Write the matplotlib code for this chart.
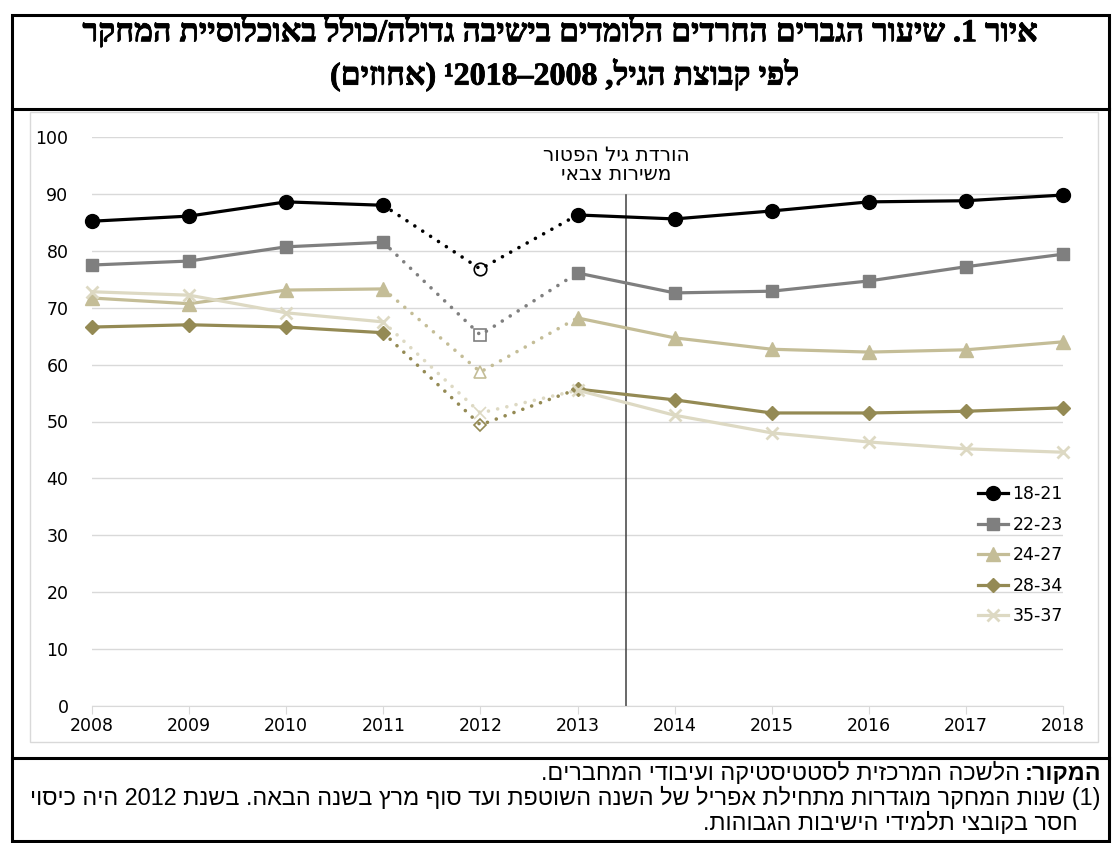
import re
import numpy as np
import matplotlib
matplotlib.use("Agg")
import matplotlib.pyplot as plt
import matplotlib.patheffects as pe
from matplotlib.lines import Line2D

# data (percent)
years = [2008, 2009, 2010, 2011, 2012, 2013, 2014, 2015, 2016, 2017, 2018]
labels = ["18-21", "22-23", "24-27", "28-34", "35-37"]
v_18_21 = [85.2, 86.1, 88.6, 88.0, 76.8, 86.3, 85.6, 87.0, 88.6, 88.8, 89.8]
v_22_23 = [77.5, 78.2, 80.7, 81.5, 65.2, 76.1, 72.6, 72.9, 74.7, 77.2, 79.4]
v_24_27 = [71.7, 70.7, 73.1, 73.3, 58.7, 68.2, 64.7, 62.7, 62.2, 62.6, 64.0]
v_28_34 = [66.6, 67.0, 66.6, 65.6, 49.4, 55.7, 53.8, 51.5, 51.5, 51.8, 52.4]
v_35_37 = [72.8, 72.2, 69.1, 67.5, 51.5, 55.5, 51.1, 48.0, 46.4, 45.2, 44.6]
series = [v_18_21, v_22_23, v_24_27, v_28_34, v_35_37]

colors = ["#000000", "#7f7f7f", "#c4bd97", "#948a54", "#ddd9c3"]
markers = ["o", "s", "^", "D", "x"]
msizes = [10, 9, 10, 7, 9]

MIRROR = str.maketrans("()", ")(")


def vis(s):
    # crude right-to-left reordering for hebrew text with numbers
    parts = re.split(r"([0-9]+)", s)
    out = []
    for p in parts:
        if p.isdigit():
            out.append(p)
        else:
            out.append(p[::-1].translate(MIRROR))
    return "".join(reversed(out))


W, H = 1112, 843
fig = plt.figure(figsize=(W / 100, H / 100), dpi=100)


def fx(px):
    return px / W


def fy(py):
    return 1 - py / H


ax = fig.add_axes([fx(92), fy(706), fx(1063) - fx(92), fy(137) - fy(706)])

gap = 2012
i_gap = years.index(gap)
for vals, c, m, ms, lab in zip(series, colors, markers, msizes, labels):
    mew = 2 if m == "x" else 1
    # solid parts
    ax.plot(years[:i_gap], vals[:i_gap], color=c, lw=2.3, marker=m, ms=ms,
            mew=mew, clip_on=False, zorder=3)
    ax.plot(years[i_gap + 1:], vals[i_gap + 1:], color=c, lw=2.3, marker=m,
            ms=ms, mew=mew, clip_on=False, zorder=3)
    # dotted part around 2012
    ax.plot(years[i_gap - 1:i_gap + 2], vals[i_gap - 1:i_gap + 2], color=c,
            lw=2.6, ls=(0, (0.01, 2.6)), dash_capstyle="round", zorder=2)
    ax.plot([years[i_gap]], [vals[i_gap]], color=c, marker=m, ms=ms - 1,
            mfc="none", mew=1.2, ls="none", zorder=4)

ax.axvline(2013.5, ymin=0, ymax=0.898, color="#404040", lw=1.1, zorder=1)

tick_font = ["DejaVu Sans"]
ax.set_xlim(2008, 2018)
ax.set_ylim(0, 100)
ax.set_xticks(years)
ax.set_yticks(np.arange(0, 101, 10))
ax.grid(axis="y", color="#d9d9d9", lw=1)
ax.set_axisbelow(True)
for sp in ["top", "right", "left"]:
    ax.spines[sp].set_visible(False)
ax.spines["bottom"].set_color("#d9d9d9")
ax.tick_params(axis="y", length=0, pad=17, labelsize=12.5)
ax.tick_params(axis="x", length=6, color="#d9d9d9", pad=2, labelsize=12.5)
for t in ax.get_xticklabels() + ax.get_yticklabels():
    t.set_family(tick_font)

handles = [Line2D([], [], color=c, lw=2.3, marker=m, ms=ms,
                  mew=(2 if m == "x" else 1))
           for c, m, ms in zip(colors, markers, msizes)]
ax.legend(handles, labels, loc="upper left", bbox_to_anchor=(0.905, 0.40),
          frameon=False, handlelength=1.75, handletextpad=0.25, labelspacing=0.72,
          prop={"family": tick_font, "size": 12.5}, borderaxespad=0)

ax.text(2013.4, 95.1, vis("הורדת גיל הפטור") + "\n" + vis("משירות צבאי"),
        ha="center", va="center", fontsize=14.5, linespacing=1.05,
        family=["DejaVu Sans"])

# frames
fig.add_artist(plt.Rectangle((fx(12), fy(841)), fx(1109) - fx(12), fy(15) - fy(841),
                             fill=False, ec="black", lw=2.2))
fig.add_artist(Line2D([fx(12), fx(1109)], [fy(109), fy(109)], color="black", lw=2.2))
fig.add_artist(Line2D([fx(12), fx(1109)], [fy(758), fy(758)], color="black", lw=2.2))
fig.add_artist(plt.Rectangle((fx(30), fy(742)), fx(1098) - fx(30), fy(112) - fy(742),
                             fill=False, ec="#d9d9d9", lw=1))

# title
title_font = ["Liberation Serif", "DejaVu Sans"]
bold_fx = [pe.withStroke(linewidth=0.6, foreground="black")]
fig.text(fx(561), fy(32), vis("איור 1. שיעור הגברים החרדים הלומדים בישיבה גדולה/כולל באוכלוסיית המחקר"),
         ha="center", va="center", fontsize=23, weight="bold", family=title_font,
         path_effects=bold_fx)
fig.text(fx(565), fy(75), vis("לפי קבוצת הגיל, 2008–2018¹ (אחוזים)"),
         ha="center", va="center", fontsize=23, weight="bold", family=title_font,
         path_effects=bold_fx)

# notes
note_font = ["Liberation Sans", "DejaVu Sans"]
nfs = 16.8
src_b = fig.text(fx(1101), fy(773), vis("המקור:"), ha="right", va="center",
                 fontsize=nfs, weight="bold", family=note_font)
fig.canvas.draw()
bw = src_b.get_window_extent().width
fig.text(fx(1101 - bw - 4), fy(773), vis("הלשכה המרכזית לסטטיסטיקה ועיבודי המחברים."),
         ha="right", va="center", fontsize=nfs, family=note_font)
fig.text(fx(1101), fy(798), vis("(1) שנות המחקר מוגדרות מתחילת אפריל של השנה השוטפת ועד סוף מרץ בשנה הבאה. בשנת 2012 היה כיסוי"),
         ha="right", va="center", fontsize=nfs, family=note_font)
fig.text(fx(1078), fy(823), vis("חסר בקובצי תלמידי הישיבות הגבוהות."),
         ha="right", va="center", fontsize=nfs, family=note_font)

fig.savefig("out.png", dpi=100)
